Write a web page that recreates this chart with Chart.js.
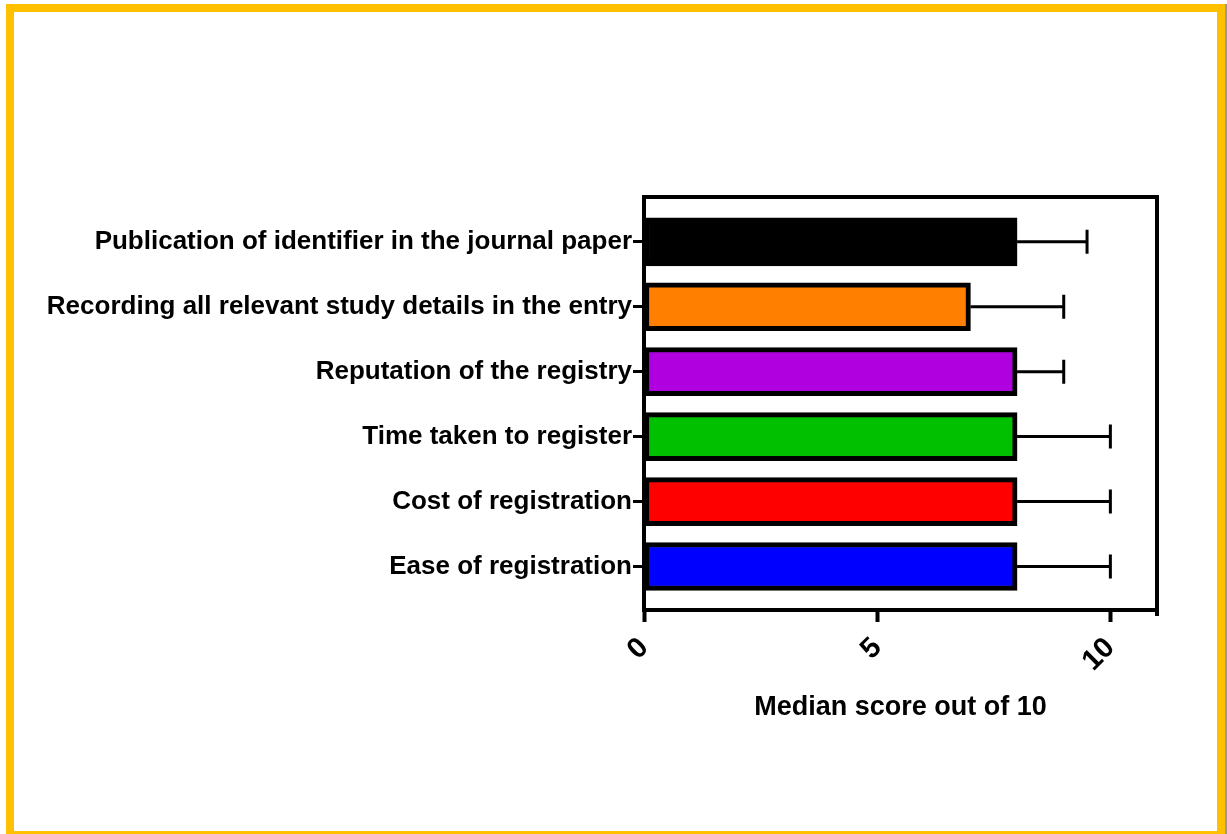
<!DOCTYPE html>
<html>
<head>
<meta charset="utf-8">
<script src="https://cdn.jsdelivr.net/npm/chart.js@4/dist/chart.umd.min.js"></script>
<style>
  html, body { margin: 0; padding: 0; background: #fff; overflow: hidden; }
  #frame { position: absolute; left: 6px; top: 4px; width: 1203px; height: 819px; border: 8px solid #FFC000; box-sizing: content-box; }
  #shadow { position: absolute; left: 1225px; top: 4px; width: 2px; height: 830px; background: #999; }
  #wrap { position: absolute; left: 0; top: 0; width: 1227px; height: 834px; }
</style>
</head>
<body>
<div id="frame"></div>
<div id="shadow"></div>
<div id="wrap"><canvas id="c" width="1227" height="834"></canvas></div>
<script>
const categories = [
  "Publication of identifier in the journal paper",
  "Recording all relevant study details in the entry",
  "Reputation of the registry",
  "Time taken to register",
  "Cost of registration",
  "Ease of registration"
];
const medianScores = [8, 7, 8, 8, 8, 8];
const upperErrors = [9.5, 9, 9, 10, 10, 10];
const barColors = ["#000000", "#FF8000", "#B000E0", "#00C000", "#FF0000", "#0000FF"];
const xTickValues = [0, 5, 10];
const xAxisTitle = "Median score out of 10";

const FONT = "'Liberation Sans', Arial, sans-serif";

const errorBars = {
  id: 'errorBars',
  afterDatasetsDraw(chart) {
    const ctx = chart.ctx, xs = chart.scales.x, ys = chart.scales.y;
    ctx.save();
    ctx.strokeStyle = '#000';
    ctx.lineWidth = 3;
    for (let i = 0; i < medianScores.length; i++) {
      const x1 = xs.getPixelForValue(medianScores[i]);
      const x2 = xs.getPixelForValue(upperErrors[i]);
      const y = ys.getPixelForValue(i);
      ctx.beginPath();
      ctx.moveTo(x1, y); ctx.lineTo(x2, y);
      ctx.moveTo(x2, y - 12); ctx.lineTo(x2, y + 12);
      ctx.stroke();
    }
    ctx.restore();
  }
};

const boxFrame = {
  id: 'boxFrame',
  afterDraw(chart) {
    const ctx = chart.ctx, a = chart.chartArea;
    ctx.save();
    ctx.strokeStyle = '#000';
    ctx.lineWidth = 4;
    ctx.beginPath();
    ctx.moveTo(a.left - 2, a.top);
    ctx.lineTo(a.right, a.top);
    ctx.lineTo(a.right, a.bottom + 6);
    ctx.stroke();
    ctx.restore();
  }
};

new Chart(document.getElementById('c'), {
  type: 'bar',
  data: {
    datasets: [{
      data: medianScores.map((v, i) => ({ x: v, y: i })),
      backgroundColor: barColors,
      borderColor: '#000',
      borderWidth: 5,
      borderSkipped: false,
      barThickness: 48
    }]
  },
  options: {
    indexAxis: 'y',
    responsive: false,
    animation: false,
    layout: { padding: { top: 197, right: 70, left: 0, bottom: 110 } },
    plugins: { legend: { display: false }, tooltip: { enabled: false } },
    scales: {
      x: {
        type: 'linear',
        min: 0, max: 11,
        offset: false,
        afterBuildTicks(s) { s.ticks = xTickValues.map(v => ({ value: v })); },
        afterFit(s) { s.height = 834 - 110 - 610; },
        border: { display: true, color: '#000', width: 4 },
        grid: { drawOnChartArea: false, offset: false, color: '#000', tickLength: 12, tickWidth: 4 },
        ticks: {
          color: '#000', minRotation: 45, maxRotation: 45, padding: 9,
          font: { family: FONT, size: 29, weight: 'bold' }
        },
        title: {
          display: true, text: xAxisTitle, color: '#000',
          font: { family: FONT, size: 27, weight: 'bold' },
          padding: { top: 10, bottom: 0 }
        }
      },
      y: {
        type: 'linear',
        reverse: true,
        offset: false,
        min: -0.69, max: 5.67,
        afterBuildTicks(s) { s.ticks = categories.map((_, i) => ({ value: i })); },
        afterFit(s) { s.width = 644; },
        border: { display: true, color: '#000', width: 4 },
        grid: { drawOnChartArea: false, offset: false, color: '#000', tickLength: 11, tickWidth: 3 },
        ticks: {
          color: '#000', padding: 1, autoSkip: false,
          font: { family: FONT, size: 26, weight: 'bold' },
          callback: (v) => categories[v]
        }
      }
    }
  },
  plugins: [errorBars, boxFrame]
});
</script>
</body>
</html>
